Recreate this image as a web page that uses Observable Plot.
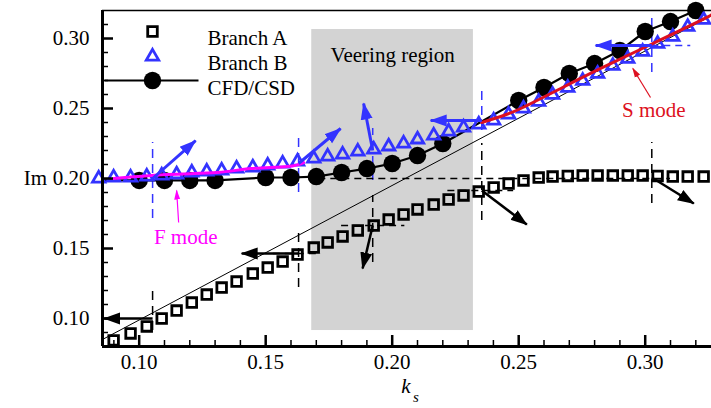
<!DOCTYPE html>
<html><head><meta charset="utf-8">
<script src="https://cdn.jsdelivr.net/npm/d3@7"></script>
<script src="https://cdn.jsdelivr.net/npm/@observablehq/plot@0.6"></script>
<style>
body{margin:0;background:#fff;}
#chart svg{font-family:"Liberation Serif","Times New Roman",serif;}
</style></head><body><div id="chart"></div>
<script>
// ---- data ----
const ksA = [0.0899,0.0966,0.1030,0.1089,0.1148,0.1208,0.1267,0.1326,0.1385,0.1449,0.1508,0.1567,0.1626,0.1690,0.1745,0.1804,0.1864,0.1927,0.1986,0.2045,0.2100,0.2164,0.2223,0.2282,0.2342,0.2401,0.2460,0.2519,0.2579,0.2634,0.2694,0.2753,0.2812,0.2872,0.2931,0.2990,0.3049,0.3109,0.3168,0.3231];
const imA = [0.0843,0.0893,0.0943,0.1000,0.1057,0.1114,0.1171,0.1221,0.1264,0.1321,0.1364,0.1407,0.1457,0.1507,0.1543,0.1586,0.1629,0.1664,0.1707,0.1743,0.1779,0.1814,0.1850,0.1879,0.1907,0.1936,0.1964,0.1986,0.2007,0.2014,0.2018,0.2021,0.2021,0.2021,0.2021,0.2021,0.2018,0.2014,0.2014,0.2014];
const ksB = [0.0840,0.0899,0.0966,0.1030,0.1089,0.1148,0.1208,0.1267,0.1326,0.1385,0.1449,0.1508,0.1567,0.1626,0.1690,0.1745,0.1804,0.1864,0.1927,0.1986,0.2045,0.2100,0.2164,0.2223,0.2282,0.2342,0.2401,0.2460,0.2519,0.2579,0.2634,0.2694,0.2753,0.2812,0.2872,0.2931,0.2990,0.3049,0.3109,0.3168,0.3231];
const imB = [0.2000,0.2007,0.2007,0.2014,0.2021,0.2029,0.2043,0.2050,0.2057,0.2071,0.2079,0.2093,0.2107,0.2121,0.2143,0.2157,0.2171,0.2193,0.2207,0.2229,0.2250,0.2279,0.2307,0.2336,0.2364,0.2386,0.2414,0.2457,0.2500,0.2548,0.2598,0.2648,0.2698,0.2748,0.2805,0.2855,0.2905,0.2962,0.3012,0.3083,0.3133];
const ksCFD = [0.080,0.10,0.11,0.12,0.13,0.15,0.16,0.17,0.18,0.19,0.20,0.21,0.22,0.25,0.26,0.27,0.28,0.29,0.30,0.31,0.32];
const imCFD = [0.1986,0.1986,0.1986,0.1986,0.1986,0.2007,0.2007,0.2014,0.2043,0.2071,0.2107,0.2164,0.2250,0.2557,0.2650,0.2750,0.2821,0.2914,0.3050,0.3121,0.3200];
const ksF = [0.0899,0.1113,0.1310,0.1441,0.1587,0.1650];
const imF = [0.2000,0.2029,0.2043,0.2071,0.2086,0.2114];
const ksS = [0.2354,0.2429,0.2508,0.2666,0.2824,0.3022,0.3220,0.3263];
const imS = [0.2400,0.2443,0.2500,0.2643,0.2786,0.2957,0.3129,0.3171];
const ksDiag = [0.0855,0.3262];
const imDiag = [0.0850,0.3163];
// mode-shape arrows at selected points
const arrKs  = [0.1053,0.1630,0.1923,0.2354,0.3026];
const arrA_im  = [0.1000,0.1464,0.1664,0.1914,0.2007];
const arrA_ks2 = [0.0862,0.1405,0.1883,0.2532,0.3192];
const arrA_im2 = [0.1000,0.1464,0.1357,0.1671,0.1821];
const arrB_im  = [0.2000,0.2107,0.2200,0.2414,0.2950];
const arrB_ks2 = [0.1223,0.1796,0.1887,0.2152,0.2804];
const arrB_im2 = [0.2271,0.2357,0.2536,0.2414,0.2950];
const dashA_lo = [0.0914,0.1221,0.1400,0.1700,0.1821];
const dashA_hi = [0.1214,0.1650,0.1879,0.2250,0.2257];
const dashB_lo = [0.1714,0.1900,0.1986,0.2343,0.2757];
const dashB_hi = [0.2257,0.2321,0.2357,0.2664,0.3186];
const hdashA_im = [0.2000,0.1464,0.1664,0.1914];
const hdashA_k1 = [0.1710,0.1530,0.1800,0.2220];
const hdashA_k2 = [0.3100,0.1720,0.2050,0.2480];
const hdashB_im = [0.2950];
const hdashB_k1 = [0.3026];
const hdashB_k2 = [0.3180];
const veering = {k1: 0.1682, k2: 0.2321, im1: 0.0914, im2: 0.3064};
const notes = ["Veering region","F mode","S mode"];
const notesKs = [0.2002,0.1184,0.3034];
const notesIm = [0.2879,0.1579,0.2486];
const noteArrows = {ks1:[0.1156,0.3021], im1:[0.1686,0.2579], ks2:[0.1148,0.2951], im2:[0.1914,0.2786]};
const legendLabels = ["Branch A","Branch B","CFD/CSD"];
const xDomain = [0.0855,0.3262];
const yDomain = [0.08,0.32];
const xMajor = [0.10,0.15,0.20,0.25,0.30];
const xMinor = [0.09,0.11,0.12,0.13,0.14,0.16,0.17,0.18,0.19,0.21,0.22,0.23,0.24,0.26,0.27,0.28,0.29,0.31,0.32];
const yMajor = [0.10,0.15,0.20,0.25,0.30];
const yMinor = [0.09,0.11,0.12,0.13,0.14,0.16,0.17,0.18,0.19,0.21,0.22,0.23,0.24,0.26,0.27,0.28,0.29,0.31];

// ---- styles ----
const BLUE = "#3333ff", MAG = "#ff00ff", RED = "#dd1020";
const W = 711, H = 408, ML = 102, MR = 0, MT = 10, MB = 62;
const FW = W - ML - MR, FH = H - MT - MB;
const zip = (xs, ys) => xs.map((x, i) => ({x, y: ys[i]}));
const A = zip(ksA, imA), B = zip(ksB, imB), C = zip(ksCFD, imCFD);
const Cvis = C.filter(d => d.x >= xDomain[0]);
const F = zip(ksF, imF), S = zip(ksS, imS), D = zip(ksDiag, imDiag);
const arrA = arrKs.map((x, i) => ({x1: x, y1: arrA_im[i], x2: arrA_ks2[i], y2: arrA_im2[i]}));
const arrB = arrKs.map((x, i) => ({x1: x, y1: arrB_im[i], x2: arrB_ks2[i], y2: arrB_im2[i]}));
const vdA = arrKs.map((x, i) => ({x, y1: dashA_lo[i], y2: dashA_hi[i]}));
const vdB = arrKs.map((x, i) => ({x, y1: dashB_lo[i], y2: dashB_hi[i]}));
const hdA = hdashA_im.map((y, i) => ({y, x1: hdashA_k1[i], x2: hdashA_k2[i]}));
const hdB = hdashB_im.map((y, i) => ({y, x1: hdashB_k1[i], x2: hdashB_k2[i]}));
const noteData = notes.map((t, i) => ({t, x: notesKs[i], y: notesIm[i], c: [ "black", MAG, RED ][i]}));
const nA = noteArrows.ks1.map((x, i) => ({x1: x, y1: noteArrows.im1[i], x2: noteArrows.ks2[i], y2: noteArrows.im2[i], c: [MAG, RED][i]}));
const hline = {draw(ctx) { ctx.moveTo(-47, 0); ctx.lineTo(47, 0); }};
const fmt = d3.format(".2f");

const chart = Plot.plot({
  width: W, height: H, marginLeft: ML, marginRight: MR, marginTop: MT, marginBottom: MB,
  style: {fontFamily: "'Liberation Serif','Times New Roman',serif", fontSize: "21px", color: "black", background: "white", overflow: "visible"},
  x: {domain: xDomain, label: null, axis: null},
  y: {domain: yDomain, label: null, axis: null},
  marks: [
    Plot.rect([veering], {x1: "k1", x2: "k2", y1: "im1", y2: "im2", fill: "#d3d3d3"}),
    Plot.line(D, {x: "x", y: "y", stroke: "black", strokeWidth: 1}),
    Plot.ruleX(vdA, {x: "x", y1: "y1", y2: "y2", stroke: "black", strokeWidth: 1.5, strokeDasharray: "9,6"}),
    Plot.ruleX(vdB, {x: "x", y1: "y1", y2: "y2", stroke: BLUE, strokeWidth: 1.5, strokeDasharray: "9,6"}),
    Plot.ruleY(hdA, {y: "y", x1: "x1", x2: "x2", stroke: "black", strokeWidth: 1.5, strokeDasharray: "7,5"}),
    Plot.ruleY(hdB, {y: "y", x1: "x1", x2: "x2", stroke: BLUE, strokeWidth: 1.5, strokeDasharray: "7,5"}),
    Plot.dot(A, {x: "x", y: "y", symbol: "square", r: 5.4, stroke: "black", strokeWidth: 2.8, fill: "none"}),
    Plot.line(C, {x: "x", y: "y", stroke: "black", strokeWidth: 2.2, clip: true}),
    Plot.dot(Cvis, {x: "x", y: "y", r: 8.7, fill: "black"}),
    Plot.dot(B, {x: "x", y: "y", symbol: "triangle", r: 4.6, stroke: BLUE, strokeWidth: 2.8, fill: "none"}),
    Plot.line(F, {x: "x", y: "y", stroke: MAG, strokeWidth: 3, curve: "natural"}),
    Plot.line(S, {x: "x", y: "y", stroke: RED, strokeWidth: 3, curve: "natural", clip: true}),
    Plot.link(arrA, {x1: "x1", y1: "y1", x2: "x2", y2: "y2", stroke: "black", strokeWidth: 2.5, markerEnd: "arrow"}),
    Plot.link(arrB, {x1: "x1", y1: "y1", x2: "x2", y2: "y2", stroke: BLUE, strokeWidth: 3, markerEnd: "arrow"}),
    Plot.link(nA.filter(d => d.c === MAG), {x1: "x1", y1: "y1", x2: "x2", y2: "y2", stroke: MAG, strokeWidth: 1.2, markerEnd: "arrow"}),
    Plot.link(nA.filter(d => d.c === RED), {x1: "x1", y1: "y1", x2: "x2", y2: "y2", stroke: RED, strokeWidth: 1.2, markerEnd: "arrow"}),
    Plot.text(noteData, {x: "x", y: "y", text: "t", fill: "c", fontSize: 21}),
    // frame & axes
    Plot.ruleY([yDomain[1]], {stroke: "black", strokeWidth: 1.5}),
    Plot.ruleX([xDomain[0]], {stroke: "black", strokeWidth: 3}),
    Plot.ruleY([yDomain[0]], {stroke: "black", strokeWidth: 3}),
    Plot.tickX(xMajor, {x: d => d, insetTop: FH - 11, stroke: "black", strokeWidth: 2.5}),
    Plot.tickX(xMinor, {x: d => d, insetTop: FH - 6, stroke: "black", strokeWidth: 1.5}),
    Plot.tickY(yMajor, {y: d => d, insetRight: FW - 11, stroke: "black", strokeWidth: 2.5}),
    Plot.tickY(yMinor, {y: d => d, insetRight: FW - 6, stroke: "black", strokeWidth: 1.5}),
    Plot.axisX(xMajor, {tickSize: 0, tickPadding: 8, tickFormat: fmt, fontSize: 21, label: null}),
    Plot.axisY(yMajor, {tickSize: 0, tickPadding: 13, tickFormat: fmt, fontSize: 21, label: null}),
    Plot.text(["Im"], {frameAnchor: "left", dx: -67, textAnchor: "middle", fontSize: 21}),
    Plot.text(["k"], {frameAnchor: "bottom", dx: -1, dy: 46, textAnchor: "middle", fontSize: 21, fontStyle: "italic"}),
    Plot.text(["s"], {frameAnchor: "bottom", dx: 9, dy: 55, textAnchor: "middle", fontSize: 15, fontStyle: "italic"}),
    // legend
    Plot.dot([0], {frameAnchor: "top-left", dx: 50, dy: 21, symbol: "square", r: 5.4, stroke: "black", strokeWidth: 2.8, fill: "none"}),
    Plot.dot([0], {frameAnchor: "top-left", dx: 50, dy: 46, symbol: "triangle", r: 4.6, stroke: BLUE, strokeWidth: 2.8, fill: "none"}),
    Plot.dot([0], {frameAnchor: "top-left", dx: 49, dy: 70, symbol: hline, stroke: "black", strokeWidth: 2.2, fill: "none"}),
    Plot.dot([0], {frameAnchor: "top-left", dx: 50, dy: 70, r: 8.7, fill: "black"}),
    Plot.text([legendLabels[0]], {frameAnchor: "top-left", dx: 105, dy: 20, textAnchor: "start", fontSize: 21}),
    Plot.text([legendLabels[1]], {frameAnchor: "top-left", dx: 105, dy: 45, textAnchor: "start", fontSize: 21}),
    Plot.text([legendLabels[2]], {frameAnchor: "top-left", dx: 105, dy: 70, textAnchor: "start", fontSize: 21})
  ]
});
document.getElementById("chart").appendChild(chart);

// filled arrowheads
const svg = chart.tagName.toLowerCase() === "svg" ? chart : chart.querySelector("svg");
svg.querySelectorAll("marker").forEach(m => {
  const c = m.getAttribute("stroke");
  const small = (c === MAG || c === RED);
  const L = small ? 9 : 16, Wd = small ? 3 : 6;
  m.setAttribute("viewBox", `${-L} ${-Wd - 1} ${L + 2} ${2 * Wd + 2}`);
  m.setAttribute("markerUnits", "userSpaceOnUse");
  m.setAttribute("markerWidth", L + 2);
  m.setAttribute("markerHeight", 2 * Wd + 2);
  m.setAttribute("fill", c);
  m.setAttribute("stroke", "none");
  while (m.firstChild) m.removeChild(m.firstChild);
  const p = document.createElementNS("http://www.w3.org/2000/svg", "path");
  p.setAttribute("d", `M${-L},${-Wd}L1,0L${-L},${Wd}Z`);
  m.appendChild(p);
});
</script></body></html>
